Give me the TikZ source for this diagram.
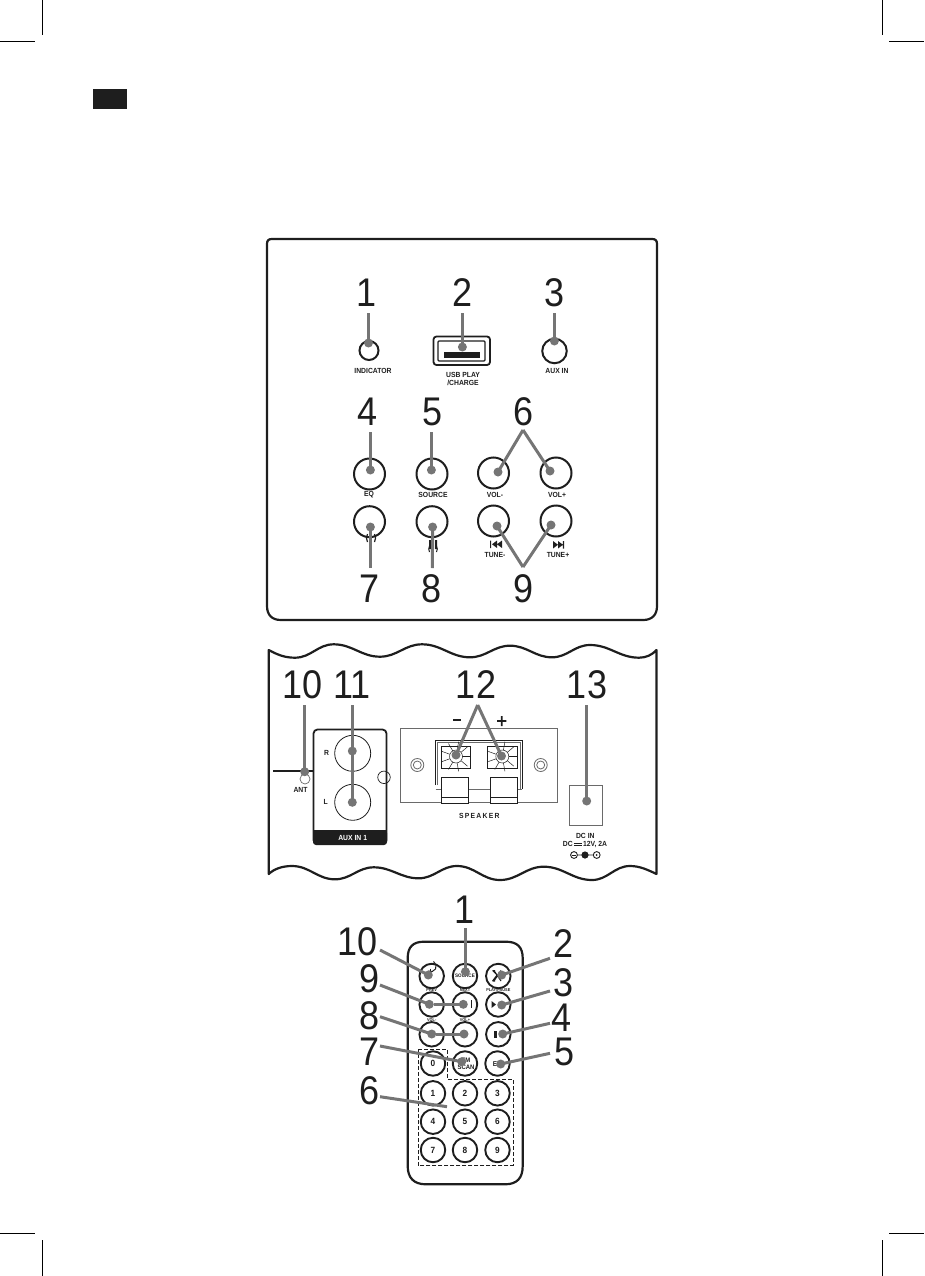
\documentclass[tikz,border=0pt]{standalone}
\usepackage{fontspec}
\setmainfont{Liberation Sans}
\newfontfamily\numfam[FakeStretch=0.9]{Liberation Sans}
\newfontfamily\labfam[FakeStretch=0.92]{Liberation Sans Bold}
\definecolor{ink}{HTML}{1E1E1E}
\definecolor{leadc}{HTML}{757575}
\definecolor{thinc}{HTML}{6A6A6A}
\newcommand\numsize{\fontsize{40}{40}\selectfont\numfam}
\newcommand\labsize{\fontsize{7.4}{8}\selectfont\labfam}
\newcommand\tinysize{\fontsize{4.2}{4.6}\selectfont\labfam}
\newcommand\keysize{\fontsize{9}{9}\selectfont\labfam}
\tikzset{
  num/.style={font=\numsize,text=ink,inner sep=0pt},
  lab/.style={font=\labsize,text=ink,inner sep=0pt,align=center},
  tinylab/.style={font=\tinysize,text=ink,inner sep=0pt,align=center},
  keylab/.style={font=\keysize,text=ink,inner sep=0pt},
  dotn/.style={circle,fill=leadc,inner sep=0pt,minimum size=9pt},
  lead/.style={draw=leadc,line width=3pt},
  panel/.style={draw=ink,line width=2.2pt},
  knob/.style={circle,draw=ink,line width=2pt,inner sep=0pt,minimum size=31pt},
  rkey/.style={circle,draw=ink,line width=1.9pt,inner sep=0pt,minimum size=24.5pt},
  thinbox/.style={draw=thinc,line width=.8pt},
  crop/.style={draw=black,line width=1pt}
}
\begin{document}
\begin{tikzpicture}[x=1pt,y=-1pt]
\useasboundingbox (0,0) rectangle (924,1276);
% crop marks and tab
\draw[crop] (42,0)--(42,35) (0,42)--(35,42);
\draw[crop] (882,0)--(882,35) (889,42)--(924,42);
\draw[crop] (42,1276)--(42,1240) (0,1233)--(35,1233);
\draw[crop] (882,1276)--(882,1240) (889,1233)--(924,1233);
\fill[ink] (93,89) rectangle (127,109);

% ---------- top panel
\draw[panel] (267,400) -- (267,244) .. controls (267,240.5) and (268.5,239) .. (272,239)
  -- (652,239) .. controls (655.5,239) and (657,240.5) .. (657,244)
  -- (657,606) .. controls (657,615) and (652,620) .. (643,620)
  -- (281,620) .. controls (272,620) and (267,615) .. (267,606) -- cycle;
\node[circle,draw=ink,line width=2pt,inner sep=0pt,minimum size=19pt] (led) at (369,350.5) {};
\node[circle,draw=ink,line width=2pt,inner sep=0pt,minimum size=24.5pt] (auxj) at (554.5,351) {};
\draw[draw=ink,line width=1.8pt,rounded corners=3pt] (433.5,336.5) rectangle (490,365);
\draw[draw=ink,line width=1.4pt,rounded corners=1pt] (438,341) rectangle (485,361);
\fill[ink] (444,352) rectangle (480,357.5);
\node[lab] (tInd) at (373,371) {INDICATOR};
\node[lab] (tUsb) at (463,379) {USB PLAY\\/CHARGE};
\node[lab] (tAux) at (557,371) {AUX IN};
\foreach \nm/\cx/\cy in {kEq/369.5/474,kSrc/432/474,kVm/493.5/473,kVp/556/473,kPw/369.5/521.7,kPl/432/521.7,kTm/493.5/521,kTp/556/521}
  \node[knob] (\nm) at (\cx,\cy) {};
\node[lab] (tEq) at (369,495) {EQ};
\node[lab] (tSrc) at (433,495) {SOURCE};
\node[lab] (tVm) at (495,495) {VOL-};
\node[lab] (tVp) at (557,495) {VOL+};
\node[lab] (tTm) at (495,554.5) {TUNE-};
\node[lab] (tTp) at (558,554.5) {TUNE+};
% front icons
\draw[ink,line width=1.2pt] (367.5,542) arc (150:210:8) (374.5,542) arc (30:-30:8);
\fill[ink] (429,540) rectangle (431,549) (435,540) rectangle (437,549);
\draw[ink,line width=1pt] (429.5,552) arc (150:210:6) (436.5,552) arc (30:-30:6);
\fill[ink] (490,540.5) rectangle (491.2,548) (497,540.5)--(492,544.3)--(497,548)--cycle (502,540.5)--(497,544.3)--(502,548)--cycle;
\fill[ink] (562.8,541) rectangle (564,548.5) (553,541)--(558,544.8)--(553,548.5)--cycle (558,541)--(563,544.8)--(558,548.5)--cycle;

\node[num] (n1) at (367,293) {1};
\node[num] (n2) at (463,293) {2};
\node[num] (n3) at (555,293) {3};
\node[num] (n4) at (368,412) {4};
\node[num] (n5) at (433,412) {5};
\node[num] (n6) at (524,412) {6};
\node[num] (n7) at (370,589) {7};
\node[num] (n8) at (432,589) {8};
\node[num] (n9) at (524,589) {9};
\foreach \nm/\cx/\cy in {a1/368.5/343,a2/462.4/347,a3/554.4/341,a4/370.4/470,a5/431.4/470,a6l/498/472,a6r/550/471,a7/370.4/527,a8/432.6/527,a9l/497/526,a9r/551/525}
  \node[dotn] (\nm) at (\cx,\cy) {};
\coordinate (f1) at (368.5,313);
\coordinate (f2) at (462.4,313);
\coordinate (f3) at (554.4,313);
\coordinate (f4) at (370.4,432);
\coordinate (f5) at (431.4,432);
\coordinate (f6) at (523,430);
\coordinate (f7) at (370.4,568);
\coordinate (f8) at (432.4,568);
\coordinate (f9) at (523,567);
\foreach \a/\b in {f1/a1,f2/a2,f3/a3,f4/a4,f5/a5,f6/a6l,f6/a6r,f7/a7,f8/a8,f9/a9l,f9/a9r}
  \draw[lead] (\a) -- (\b.center);

% ---------- rear panel
\draw[panel,line join=round] (268.7,650) .. controls (278,655) and (285,657.7) .. (295,657.7)
  to[out=0,in=180] (333.7,644.3) to[out=0,in=180] (380,656.7) to[out=0,in=180] (422,644.3)
  to[out=0,in=180] (470,657.3) to[out=0,in=180] (510,645.7) to[out=0,in=180] (552,657.3)
  to[out=0,in=180] (590,645) to[out=0,in=180] (639,657.7)
  .. controls (646,657.7) and (652,655) .. (656.5,650)
  -- (656.5,874)
  .. controls (648,870) and (640,866) .. (630,866)
  to[out=180,in=0] (592,880) to[out=180,in=0] (543.7,866.7) to[out=180,in=0] (500,880)
  to[out=180,in=0] (457,866) to[out=180,in=0] (418.7,878.3) to[out=180,in=0] (373.7,867.3)
  to[out=180,in=0] (335,879.3) to[out=180,in=0] (292,866)
  .. controls (282,866) and (274,869) .. (268.7,874) -- cycle;
% antenna
\draw[ink,line width=1.6pt] (273.3,770.7) -- (313.3,770.7);
\node[circle,draw=thinc,line width=.7pt,inner sep=0pt,minimum size=10pt] (antj) at (305,779) {};
\node[lab] (tAnt) at (300.5,789.5) {ANT};
% aux block
\draw[ink,line width=1.8pt,rounded corners=4pt] (313.5,729.5) rectangle (386.5,844);
\fill[ink,rounded corners=3pt] (313,830) rectangle (387,845);
\fill[ink] (313,830) rectangle (387,836);
\node[lab,text=white] (tAuxOne) at (352.7,837.5) {AUX IN 1};
\node[lab] (tR) at (326.7,753.3) {R};
\node[lab] (tL) at (325.7,802.3) {L};
\node[circle,draw=ink,line width=.8pt,inner sep=0pt,minimum size=36pt] (jR) at (352.7,753.3) {};
\node[circle,draw=ink,line width=.8pt,inner sep=0pt,minimum size=36pt] (jL) at (352.7,802.3) {};
\node[circle,draw=ink,line width=.7pt,inner sep=0pt,minimum size=12.5pt] (hole) at (384,777.3) {};
% speaker plate
\draw[thinbox] (400,728.3) rectangle (557.7,802.3);
\foreach \nm/\cx in {scA/417.3,scB/540.7}{
  \node[circle,thinbox,inner sep=0pt,minimum size=13pt] (\nm) at (\cx,765) {};
  \node[circle,thinbox,inner sep=0pt,minimum size=8pt] at (\cx,765) {};
}
\draw[ink,line width=.9pt] (435.7,785) -- (435.7,740.7) -- (522.3,740.7) -- (522.3,789.3);
\draw[thinc,line width=.7pt] (437.5,785) -- (437.5,742.5) -- (520.5,742.5) -- (520.5,789);
\draw[thinc,line width=.8pt] (435.7,789.3) -- (441,789.3) (468.3,789.3) -- (490.3,789.3) (517.7,789.3) -- (522.3,789.3);
\foreach \tx in {441,487.3}{
  \draw[ink,line width=.8pt] (\tx,746.7) rectangle ++(29.7,21.6);
  \foreach \ang in {0,40,...,320}
    \draw[ink,line width=.5pt] (\tx+15,756.5) ++(\ang:6) -- ++(\ang:9);
  \node[circle,fill=white,draw=ink,line width=.5pt,inner sep=0pt,minimum size=13pt] at (\tx+15,756.5) {};
}
\foreach \tx in {441,490.3}{
  \fill[white] (\tx,777.3) rectangle ++(27.4,26);
  \draw[ink,line width=.8pt] (\tx,777.3) rectangle ++(27.4,26) (\tx,797.3) -- ++(27.4,0);
}
\node[lab] (tSpk) at (479.3,816) {S\,P\,E\,A\,K\,E\,R};
\fill[ink] (452.7,719.2) rectangle (460.7,720.8);
\fill[ink] (497,720.2) rectangle (506.4,721.8) (500.9,716) rectangle (502.5,726);
% DC
\draw[thinbox] (569.3,785.7) rectangle (602.7,825.7);
\node[lab] (tDc) at (585.3,835.7) {DC IN};
\node[lab] (tDcv) at (585,844.3) {DC\,\raisebox{3pt}{\rule{8pt}{.8pt}}\llap{\raisebox{1pt}{\rule{8pt}{.8pt}}}\,12V, 2A};
\draw[ink,line width=.9pt] (574,855) circle (3.4) (596.7,855) circle (3.4) (577.4,855) -- (593.3,855);
\fill[ink] (585,855) circle (3.6) (596.7,855) circle (1);
\draw[ink,line width=.8pt] (572.3,855) -- (575.7,855);

\node[num] (n10) at (302.3,685) {10};
\node[num] (n11) at (352.3,685) {11};
\node[num] (n12) at (476,685) {12};
\node[num] (n13) at (587,685) {13};
\foreach \nm/\cx/\cy in {b10/304.7/771.7,b11a/352.3/751,b11b/352.3/802.3,b12l/456/755,b12r/501.5/756,b13/586.7/801}
  \node[dotn] (\nm) at (\cx,\cy) {};
\coordinate (g10) at (304.7,705);
\coordinate (g11) at (352.3,705);
\coordinate (g12) at (477.7,705);
\coordinate (g13) at (586.7,705);
\foreach \a/\b in {g10/b10,g11/b11b,g12/b12l,g12/b12r,g13/b13}
  \draw[lead] (\a) -- (\b.center);

% ---------- remote
\draw[panel] (407.7,1100) -- (407.7,958) .. controls (407.7,947) and (413,941.7) .. (424,941.7)
  -- (506,941.7) .. controls (517,941.7) and (522.7,947) .. (522.7,958)
  -- (522.7,1166) .. controls (522.7,1178) and (517,1184.3) .. (505,1184.3)
  -- (426,1184.3) .. controls (414,1184.3) and (407.7,1178) .. (407.7,1166) -- cycle;
\draw[ink,line width=.9pt,dash pattern=on 4pt off 2pt] (418.3,1049) -- (447.5,1049) -- (447.5,1079) -- (513,1079) -- (513,1165.7) -- (418.3,1165.7) -- cycle;
\foreach \nm/\cx/\cy in {r1/465/976,r10/431.7/976,r2/498.3/976,r11/431.7/1004.5,r9/465/1004.5,r3/498.3/1004.5,r12/431.7/1034.3,r8/465/1034.3,r4/498.3/1034.3,rz/433/1063.5,r7/465/1063.5,r5/497.5/1063.5}
  \node[rkey] (\nm) at (\cx,\cy) {};
\foreach \nm/\tx/\cx/\cy in {d1/1/433/1093.3,d2/2/465/1093.3,d3/3/497.5/1093.3,d4/4/433/1121.7,d5/5/465/1121.7,d6/6/497.5/1121.7,d7/7/433/1150,d8/8/465/1150,d9/9/497.5/1150}
  \node[rkey,keylab] (\nm) at (\cx,\cy) {\tx};
\node[keylab] (d0) at (433,1063.5) {0};
\node[tinylab,font=\fontsize{5}{5}\selectfont\labfam] (tSource) at (465,976) {SOURCE};
\node[tinylab] (tPrev) at (431.7,990.5) {PREV};
\node[tinylab] (tNext) at (465,990.5) {NEXT};
\node[tinylab] (tPlay) at (498.3,990.5) {PLAY/PAUSE};
\node[tinylab] (tVolm) at (431.7,1020) {VOL-};
\node[tinylab] (tVolp) at (465,1020) {VOL+};
\node[keylab,font=\fontsize{6.5}{6.5}\selectfont\labfam,align=center] (tScan) at (466,1064) {FM\\SCAN};
\node[keylab,font=\fontsize{7}{7}\selectfont\labfam] (tE) at (495,1064) {E};
% remote icons
\draw[ink,line width=1pt] (428,971) arc (120:-60:5.5);
\draw[ink,line width=.8pt] (430.5,968.5) -- (430.5,972);
\draw[ink,line width=1pt] (492.5,970.5) -- (497,975) -- (492.5,981) (492.5,970.5) -- (495,970.5) (492.5,981) -- (495,981) (501,970.5) -- (494,981) (494,970.5) -- (501,981);
\fill[ink] (491.5,1001) -- (496,1004.5) -- (491.5,1008) -- cycle;
\fill[ink] (494,1030.5) rectangle (497,1038);
\fill[ink] (471.2,1000) rectangle (472.4,1008);

\node[num] (m1) at (464.3,910) {1};
\node[num] (m2) at (564,944) {2};
\node[num] (m3) at (564,983) {3};
\node[num] (m4) at (562,1018) {4};
\node[num] (m5) at (565,1052) {5};
\node[num] (m6) at (370,1091) {6};
\node[num] (m7) at (370,1052) {7};
\node[num] (m8) at (370,1016) {8};
\node[num] (m9) at (370,979) {9};
\node[num] (m10) at (357.5,942) {10};
\foreach \nm/\cx/\cy in {c1/465.4/971.7,c10/428.3/975,c2/501.7/975,c9a/429.3/1004.3,c9b/463.3/1004.3,c3/501.7/1005,c8a/431.7/1034,c8b/464/1034,c4/502.7/1034,c7/461.7/1061.7,c5/500.7/1064}
  \node[dotn] (\nm) at (\cx,\cy) {};
\coordinate (h1) at (465.4,928);
\coordinate (h2) at (550,958.3);
\coordinate (h3) at (550,991);
\coordinate (h4) at (550,1023.3);
\coordinate (h5) at (550,1053.3);
\coordinate (h6a) at (380,1096.7);
\coordinate (h6b) at (447,1106.7);
\coordinate (h7) at (380,1046);
\coordinate (h8) at (380,1016.7);
\coordinate (h9) at (380,985);
\coordinate (h10) at (380,950);
\foreach \a/\b in {h1/c1,h2/c2,h3/c3,h4/c4,h5/c5,h7/c7,h8/c8a,c8a/c8b,h9/c9a,c9a/c9b,h10/c10}
  \draw[lead] (\a) -- (\b.center);
\draw[lead] (h6a) -- (h6b);
\end{tikzpicture}
\end{document}
